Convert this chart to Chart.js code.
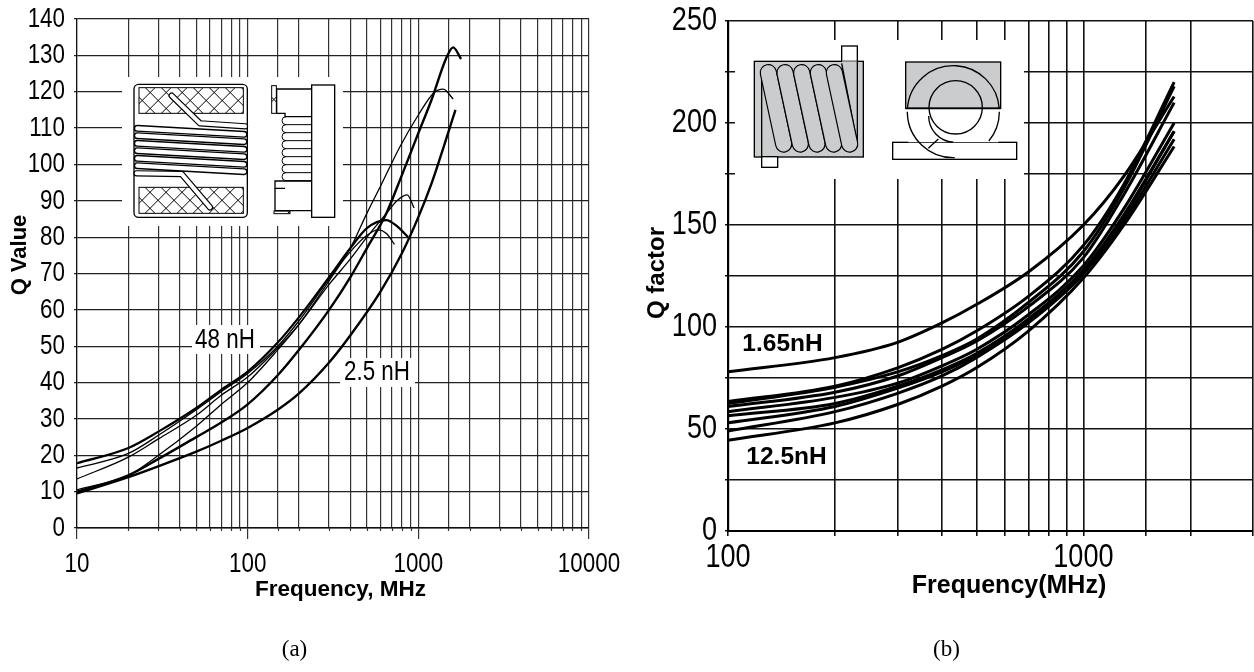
<!DOCTYPE html>
<html><head><meta charset="utf-8">
<style>html,body{margin:0;padding:0;background:#fff;width:1254px;height:672px;overflow:hidden}
canvas{position:absolute;top:0}</style>
<script src="https://cdn.jsdelivr.net/npm/chart.js@4"></script></head><body>
<div style="position:absolute;left:0;top:0;width:640px;height:672px"><canvas id="ca"></canvas></div>
<div style="position:absolute;left:640px;top:0;width:614px;height:672px"><canvas id="cb"></canvas></div>
<script>
// Panel (a)
const aXLabels = [10,100,1000,10000];
const a1F = [10,20,30,50,70,100,150,200,300,400,600,800,1000,1200,1400,1650];
const a1Q = [9.5,14,17,21,24,27.5,32.5,37,45.5,53,65,75.5,85.5,95,104.5,115];
const a2F = [10,20,30,50,70,100,150,200,300,400,500,650,800,1000,1200,1450,1600,1780];
const a2Q = [10,14.5,19,25,29,34,42,49,60,69,77,86.6,97,108.6,118,129,132.2,129];
const a3F = [10,20,30,50,70,100,150,200,300,400,500,600,783,1000,1226,1400,1600];
const a3Q = [10.5,14.5,20,28,34,40,49,56,68,77,86.6,94,105,113.6,119.6,120.7,118];
const a4F = [10,20,30,50,70,100,150,200,300,400,500,650,750,860,945];
const a4Q = [13.5,19.5,24.5,31,36.5,41.5,49.5,56,67,74,80,86.5,90,91.6,88];
const a5F = [10,20,30,50,70,100,150,200,300,400,500,580,650,725];
const a5Q = [16.5,20.5,25.5,32.5,37.5,42.5,50,57,68.5,76,80.5,82,81,78];
const a6F = [10,20,30,50,70,100,150,200,300,400,500,650,750,870];
const a6Q = [17.8,22,26.5,33,38,43,51,58,69,77,82.5,84.7,83,80];
// Panel (b)
const bF = [100,200,300,400,500,700,1000,1300,1800];
const b1Q = [78,85,92.5,102,111,127,150,174,213];
const b2Q = [63.5,71,80,89,98,115,140,170,220];
const b3Q = [62.5,70.5,78,86,94,112,137,168,218];
const b4Q = [61,68,76,85,93,110,134,165,210];
const b5Q = [58.5,65.5,72.5,81,89,106,130,158,200];
const b6Q = [56.5,62.5,71,79,87,104,128,155,196];
const b7Q = [53,61,70,78,86,103,127,154,196];
const b8Q = [49,58.5,67.5,76,85,102,126,152,192];
const b9Q = [44.5,53,62,71,80,98,124,150,188.5];

const pts = (f,q)=>f.map((x,i)=>({x,y:q[i]}));
const line = (f,q,w)=>({data:pts(f,q),borderColor:'#000',borderWidth:w,pointRadius:0,showLine:true,cubicInterpolationMode:'monotone',fill:false});
const NARROW='"Liberation Sans Narrow","Liberation Sans",Arial,sans-serif';
const SANS='"Liberation Sans",Arial,sans-serif';
const SERIF='"Liberation Serif",serif';
const isPow=v=>{const l=Math.log10(v);return Math.abs(l-Math.round(l))<1e-9};

// condensed rendering: no narrow face is installed, so narrow text is squeezed horizontally about its anchor
function condense(canvas,k){const ctx=canvas.getContext('2d');const orig=ctx.fillText.bind(ctx);
  ctx.fillText=function(t,x,y,m){ if(ctx.font.includes('Narrow')){ctx.save();ctx.translate(x,y);ctx.scale(k,1);orig(t,0,0);ctx.restore();} else if(m!==undefined){orig(t,x,y,m);} else {orig(t,x,y);} };}
condense(document.getElementById('ca'),0.8);
condense(document.getElementById('cb'),0.82);

function txt(ctx,text,x,y,font,angle){ctx.save();ctx.translate(x,y);if(angle)ctx.rotate(angle);ctx.font=font;ctx.fillStyle='#000';ctx.textAlign='center';ctx.textBaseline='middle';ctx.fillText(text,0,0);ctx.restore();}
function labelText(ctx,text,x,y,font,box){ctx.save();if(box){ctx.fillStyle='#fff';ctx.fillRect(box[0],box[1],box[2],box[3]);}ctx.restore();txt(ctx,text,x,y,font);}
function P(ctx,arr){ctx.beginPath();arr.forEach((p,i)=>i?ctx.lineTo(p[0],p[1]):ctx.moveTo(p[0],p[1]));ctx.stroke();}

function hatch(ctx,x,y,w,h){ctx.save();ctx.beginPath();ctx.rect(x,y,w,h);ctx.clip();ctx.lineWidth=3;
  for(let i=-h;i<w+h;i+=48){ctx.beginPath();ctx.moveTo(x+i,y);ctx.lineTo(x+i+h,y+h);ctx.stroke();ctx.beginPath();ctx.moveTo(x+i+h,y);ctx.lineTo(x+i,y+h);ctx.stroke();}
  ctx.restore();ctx.lineWidth=3;ctx.strokeRect(x,y,w,h);}
function tube(ctx,arr,o,i,fill){ctx.save();ctx.lineCap='round';ctx.lineJoin='round';ctx.lineWidth=o;ctx.strokeStyle='#000';P(ctx,arr);ctx.lineWidth=i;ctx.strokeStyle=fill;P(ctx,arr);ctx.restore();}

const insetA={id:'insetA',beforeDatasetsDraw(c){const x=c.ctx;x.save();
  x.fillStyle='#fff';x.fillRect(122,77,221,149);
  x.scale(1/3,1/3);x.strokeStyle='#000';x.lineWidth=4;
  x.beginPath();x.roundRect(402,253,340,399,14);x.stroke();
  hatch(x,417,263,313,77);hatch(x,417,562,313,78);
  tube(x,[[735,379],[600,370],[515,287]],19,12,'#fff');
  tube(x,[[410,520],[545,522],[630,622]],19,12,'#fff');
  [385,407,430,452,475,497].forEach(y=>tube(x,[[412,y],[732,y+18]],21,13,'#fff'));
  // side view
  x.lineWidth=4;x.fillStyle='#fff';x.strokeRect(935,255,69,397);
  P(x,[[935,267],[830,267],[830,340],[855,340],[855,350],[935,350]]);
  P(x,[[935,543],[825,543],[825,565],[855,565]]);
  P(x,[[825,565],[825,632],[935,632]]);
  hatch(x,815,257,14,83);hatch(x,822,633,48,8);
  for(let i=0;i<8;i++){const y=350+i*24;x.beginPath();x.arc(858,y+12,12,Math.PI/2,Math.PI*1.5);x.stroke();P(x,[[858,y+24],[935,y+24]]);}
  x.restore();
  labelText(x,'48 nH',225,340,'28px '+NARROW,[192,325,68,29]);
  labelText(x,'2.5 nH',377,372,'28px '+NARROW,[340,358,75,29]);
},afterDraw(c){const x=c.ctx;
  txt(x,'Q Value',20,255,'bold 22px '+SANS,-Math.PI/2);
  txt(x,'Frequency, MHz',340.5,590,'bold 22.5px '+SANS);
  const s=c.scales.x;x.save();x.strokeStyle='#333';x.lineWidth=1.2;
  s.ticks.forEach((t,i)=>{if(!isPow(t.value)){const p=Math.round(s.getPixelForTick(i));P(x,[[p+.5,s.top],[p+.5,s.top+3]]);}});x.restore();
}};

const insetB={id:'insetB',beforeDatasetsDraw(c){const x=c.ctx;x.save();
  x.fillStyle='#fff';x.fillRect(95,40,289,139);
  x.scale(1/3,1/3);x.strokeStyle='#000';x.lineWidth=4;const G='#cbcccd';
  x.fillStyle=G;x.fillRect(343,184,327,287);x.strokeRect(343,184,327,287);
  x.fillStyle='#fff';x.fillRect(605,138,47,46);x.strokeRect(605,138,47,46);
  x.fillRect(365,470,48,32);x.strokeRect(365,470,48,32);
  P(x,[[365,225],[365,470]]);
  x.fillStyle=G;x.fillRect(606,184,46,240);
  P(x,[[605,190],[652,430]]);P(x,[[652,184],[652,430]]);
  [385,435,485,535,583].forEach(a=>tube(x,[[a,218],[a+46,432]],52,45,G));
  // end-on view
  x.lineWidth=4;x.fillStyle=G;x.fillRect(797,186,285,139);x.strokeRect(797,186,285,139);
  x.fillStyle='#fff';x.fillRect(758,427,372,51);x.strokeRect(758,427,372,51);
  x.fillStyle='#fff';x.beginPath();x.rect(805,327,270,100);x.fill();
  x.beginPath();x.arc(940,335,138,Math.PI*1.02,Math.PI*1.98);x.stroke();
  x.beginPath();x.arc(940,335,138,0,Math.PI*0.22);x.stroke();
  x.beginPath();x.arc(940,335,138,Math.PI*0.49,Math.PI);x.fillStyle='#fff';x.stroke();
  x.beginPath();x.arc(947,322,80,0,Math.PI*2);x.stroke();
  x.beginPath();x.arc(945,348,79,Math.PI*0.52,Math.PI);x.stroke();
  P(x,[[865,445],[895,417]]);
  x.lineWidth=5;P(x,[[797,325],[1082,325]]);
  x.restore();
  labelText(x,'1.65nH',142.5,344,'bold 24.5px '+SANS);
  labelText(x,'12.5nH',146.5,457,'bold 24.5px '+SANS);
},afterDraw(c){const x=c.ctx;
  txt(x,'Q factor',17,273,'bold 24px '+SANS,-Math.PI/2);
  txt(x,'Frequency(MHz)',369,586,'bold 25px '+SANS);
}};

new Chart(document.getElementById('ca'),{type:'scatter',plugins:[insetA],
 data:{datasets:[line(a1F,a1Q,2.4),line(a2F,a2Q,2.4),line(a3F,a3Q,1.3),line(a4F,a4Q,1.3),line(a5F,a5Q,1.3),line(a6F,a6Q,2.2)]},
 options:{responsive:true,maintainAspectRatio:false,animation:false,
  layout:{padding:{left:0,top:19,right:51,bottom:11}},
  plugins:{legend:{display:false},tooltip:{enabled:false},
   title:{display:true,position:'bottom',text:'(a)',color:'#000',padding:0,font:{family:SERIF,size:23,lineHeight:1,weight:'normal'}}},
  scales:{
   x:{type:'logarithmic',min:10,max:10000,
    afterFit(s){s.height=110;s.paddingLeft=0;s.paddingRight=0;},
    border:{color:'#111',width:1.5},
    grid:{color:'#333',lineWidth:1.2,tickLength:11,tickColor:c=>isPow(c.tick.value)?'#333':'transparent'},
    ticks:{autoSkip:false,maxRotation:0,minRotation:0,color:'#000',padding:8,font:{family:NARROW,size:28},callback:v=>aXLabels.includes(v)?String(v):''}},
   y:{type:'linear',min:0,max:140,
    afterFit(s){s.width=77;s.paddingTop=0;s.paddingBottom=0;},
    border:{color:'#111',width:1.2},
    grid:{color:'#222',lineWidth:1.2,tickLength:3,tickColor:'#222'},
    ticks:{stepSize:10,autoSkip:false,color:'#000',padding:9,font:{family:NARROW,size:28}}}
  }}});

new Chart(document.getElementById('cb'),{type:'scatter',plugins:[insetB],
 data:{datasets:[b1Q,b2Q,b3Q,b4Q,b5Q,b6Q,b7Q,b8Q,b9Q].map(q=>line(bF,q,3))},
 options:{responsive:true,maintainAspectRatio:false,animation:false,
  layout:{padding:{left:0,top:21,right:1,bottom:11}},
  plugins:{legend:{display:false},tooltip:{enabled:false},
   title:{display:true,position:'bottom',text:'(b)',color:'#000',padding:0,font:{family:SERIF,size:23,lineHeight:1,weight:'normal'}}},
  scales:{
   x:{type:'logarithmic',min:100,max:3000,
    afterFit(s){s.height=107;s.paddingLeft=0;s.paddingRight=0;},
    border:{color:'#000',width:2},
    grid:{color:'#111',lineWidth:1.6,tickLength:5,tickColor:'#111'},
    ticks:{autoSkip:false,maxRotation:0,minRotation:0,color:'#000',padding:2,font:{family:NARROW,size:33},callback:v=>isPow(v)?String(v):''}},
   y:{type:'linear',min:0,max:250,
    afterFit(s){s.width=88;s.paddingTop=0;s.paddingBottom=0;},
    border:{color:'#000',width:2.2},
    grid:{color:'#111',lineWidth:1.6,tickLength:3,tickColor:'#111'},
    ticks:{stepSize:25,autoSkip:false,color:'#000',padding:8,font:{family:NARROW,size:33},callback:v=>v%50===0?String(v):''}}
  }}});
</script></body></html>
